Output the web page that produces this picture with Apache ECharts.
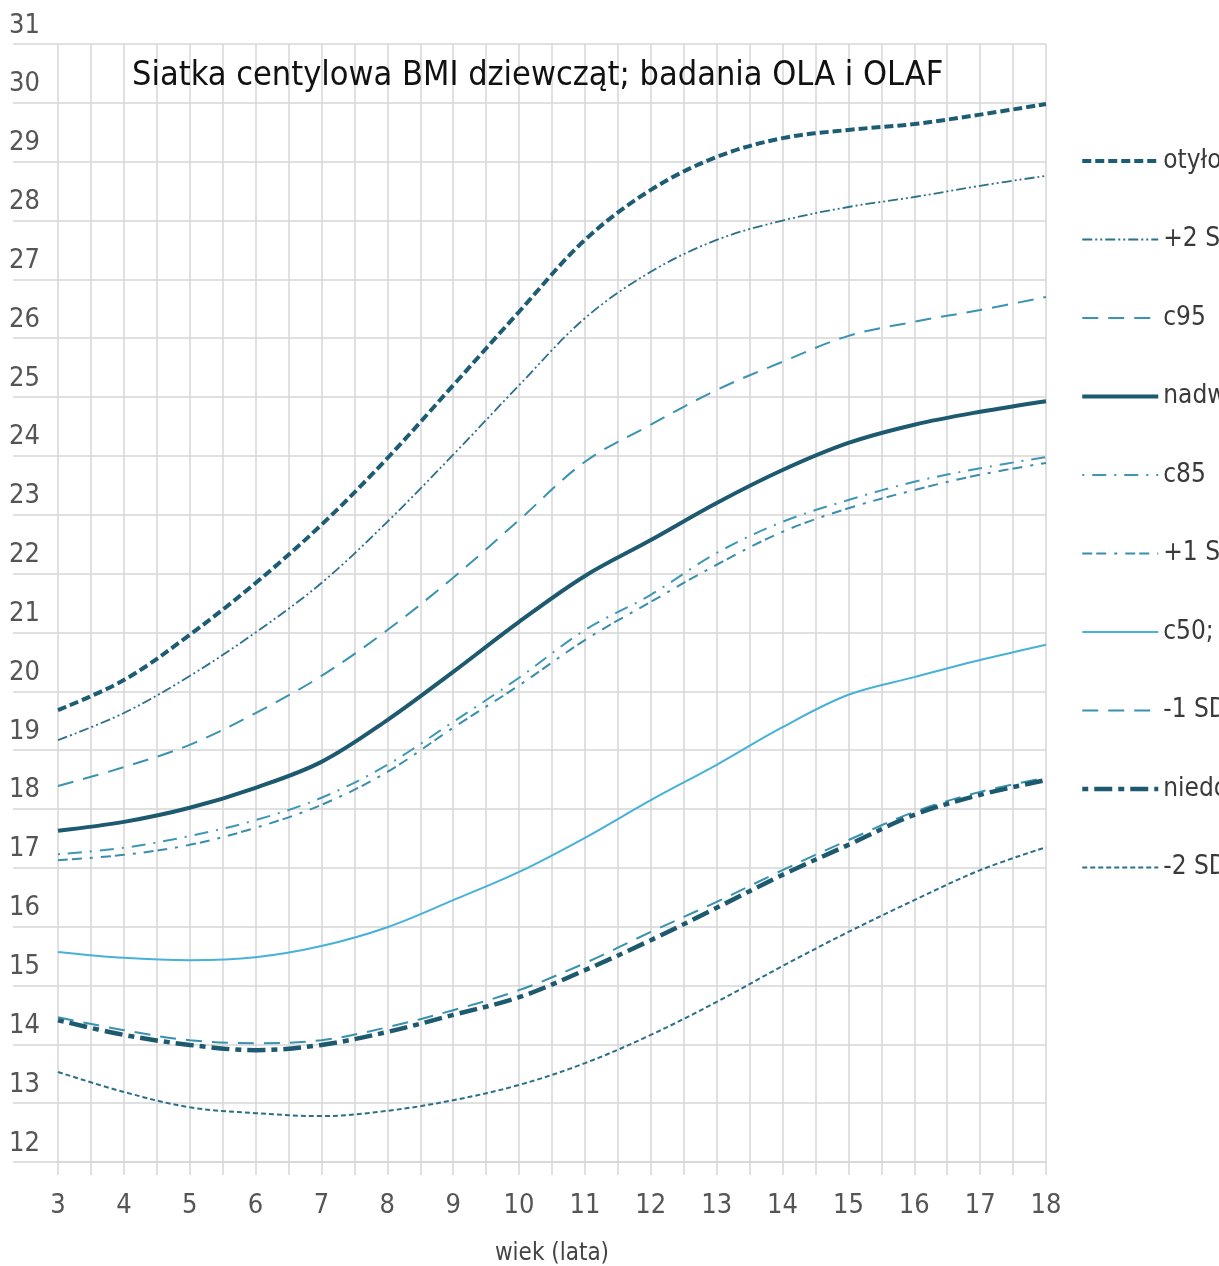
<!DOCTYPE html>
<html>
<head>
<meta charset="utf-8">
<script src="https://cdn.jsdelivr.net/npm/echarts@6/dist/echarts.min.js"></script>
<style>
  html, body { margin: 0; padding: 0; background: #fff; }
  #chart { width: 1219px; height: 1266px; }
</style>
</head>
<body>
<div id="chart"></div>
<script>
// wiek (lata)
const ages = [3, 4, 5, 6, 7, 8, 9, 10, 11, 12, 13, 14, 15, 16, 17, 18];

const otylosc   = [19.68, 20.19, 20.96, 21.84, 22.83, 23.96, 25.20, 26.45, 27.67, 28.52, 29.08, 29.40, 29.54, 29.64, 29.80, 29.98];
const plus2SD   = [19.17, 19.63, 20.26, 21.00, 21.84, 22.88, 24.02, 25.20, 26.34, 27.13, 27.67, 28.00, 28.23, 28.40, 28.59, 28.76];
const c95       = [18.39, 18.71, 19.09, 19.63, 20.26, 21.04, 21.93, 22.91, 23.90, 24.53, 25.12, 25.60, 26.04, 26.28, 26.48, 26.70];
const nadwaga   = [17.63, 17.78, 18.02, 18.36, 18.80, 19.51, 20.33, 21.18, 21.96, 22.57, 23.20, 23.76, 24.22, 24.53, 24.75, 24.93];
const c85       = [17.23, 17.34, 17.54, 17.81, 18.19, 18.75, 19.48, 20.23, 21.04, 21.64, 22.35, 22.88, 23.25, 23.56, 23.79, 23.98];
const plus1SD   = [17.13, 17.22, 17.39, 17.68, 18.07, 18.63, 19.38, 20.10, 20.87, 21.52, 22.15, 22.71, 23.11, 23.42, 23.68, 23.88];
const c50       = [15.57, 15.47, 15.43, 15.48, 15.67, 15.99, 16.45, 16.93, 17.51, 18.15, 18.75, 19.39, 19.94, 20.24, 20.53, 20.79];
const minus1SD  = [14.46, 14.24, 14.07, 14.02, 14.07, 14.29, 14.58, 14.92, 15.38, 15.91, 16.42, 16.96, 17.47, 17.95, 18.29, 18.53];
const niedowaga = [14.41, 14.16, 13.99, 13.90, 13.99, 14.21, 14.50, 14.80, 15.26, 15.77, 16.32, 16.88, 17.39, 17.90, 18.24, 18.49];
const minus2SD  = [13.53, 13.19, 12.93, 12.83, 12.78, 12.87, 13.05, 13.31, 13.68, 14.16, 14.72, 15.33, 15.91, 16.45, 16.96, 17.35];

const fontNarrow = "'DejaVu Sans Condensed', 'Liberation Sans Narrow', sans-serif";
const gridColor = '#d6d6d6';

// pary [wiek, BMI]
const toPairs = vals => ages.map((a, i) => [a, vals[i]]);

const makeLine = (name, vals, color, width, dash) => ({
  name: name,
  type: 'line',
  data: toPairs(vals),
  smooth: 0.35,
  symbol: 'none',
  lineStyle: { color: color, width: width, type: dash, cap: 'butt' },
  itemStyle: { color: color }
});

const series = [
  makeLine('otyłość',   otylosc,   '#1d5d74', 4,   [9, 4]),
  makeLine('+2 SD',     plus2SD,   '#2c7089', 1.8, [10, 3, 2, 3, 2, 3]),
  makeLine('c95',       c95,       '#3a93b1', 2,   [16, 10]),
  makeLine('nadwaga',   nadwaga,   '#1d5a70', 4,   'solid'),
  makeLine('c85',       c85,       '#3d98b6', 2,   [2, 8, 14, 8]),
  makeLine('+1 SD',     plus1SD,   '#3a8dab', 2,   [10, 4, 10, 8, 3, 8]),
  makeLine('c50; 0 SD', c50,       '#47b1d8', 2,   'solid'),
  makeLine('-1 SD',     minus1SD,  '#3a91ae', 2,   [16, 10]),
  makeLine('niedowaga', niedowaga, '#1d5a70', 4.5, [6, 6, 18, 6]),
  makeLine('-2 SD',     minus2SD,  '#2c6f88', 2,   [5, 3])
];

// legenda: ta sama grubość i kreskowanie co linie
const legendData = series.map(s => ({
  name: s.name,
  lineStyle: { width: s.lineStyle.width, type: s.lineStyle.type, color: s.lineStyle.color }
}));

const chart = echarts.init(document.getElementById('chart'));

chart.setOption({
  backgroundColor: '#fff',
  animation: false,
  title: {
    text: 'Siatka centylowa BMI dziewcząt; badania OLA i OLAF',
    left: 127,
    top: 54,
    textStyle: { fontFamily: fontNarrow, fontSize: 34, fontWeight: 'normal', color: '#111' }
  },
  legend: {
    orient: 'vertical',
    left: 1080,
    top: 148,
    padding: 0,
    itemWidth: 76,
    itemHeight: 14,
    itemGap: 52.5,
    data: legendData,
    itemStyle: { opacity: 0 },
    textStyle: { fontFamily: fontNarrow, fontSize: 26, color: '#3a3a3a' }
  },
  grid: {
    left: 58,
    right: 173,
    top: 44,
    bottom: 104,
    containLabel: false,
    outerBoundsMode: 'none'
  },
  xAxis: {
    type: 'value',
    min: 3,
    max: 18,
    interval: 1,
    name: 'wiek (lata)',
    nameLocation: 'middle',
    nameGap: 80,
    nameTextStyle: { fontFamily: fontNarrow, fontSize: 24, color: '#444' },
    axisLine: { show: true, lineStyle: { color: gridColor, width: 1.5 } },
    axisTick: { show: true, length: 13, lineStyle: { color: gridColor, width: 1.5 } },
    minorTick: { show: true, splitNumber: 2, length: 13, lineStyle: { color: gridColor, width: 1.5 } },
    axisLabel: { margin: 30, fontFamily: fontNarrow, fontSize: 27, color: '#555' },
    splitLine: { show: true, lineStyle: { color: gridColor, width: 1.5 } },
    minorSplitLine: { show: true, lineStyle: { color: gridColor, width: 1.5 } }
  },
  yAxis: {
    type: 'value',
    min: 12,
    max: 31,
    interval: 1,
    axisLine: { show: false },
    axisTick: { show: true, length: 45, lineStyle: { color: gridColor, width: 1.5 } },
    axisLabel: {
      margin: 18,
      verticalAlign: 'bottom',
      padding: [0, 0, 5, 0],
      fontFamily: fontNarrow,
      fontSize: 27,
      color: '#555'
    },
    splitLine: { show: true, lineStyle: { color: gridColor, width: 1.5 } }
  },
  series: series
});
</script>
</body>
</html>
